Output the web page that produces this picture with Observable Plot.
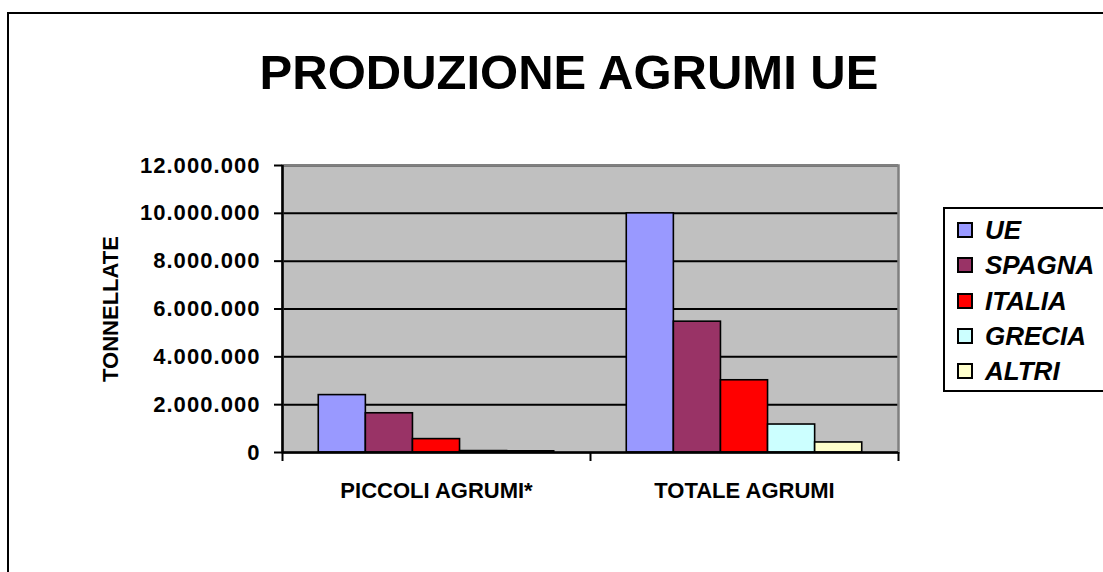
<!DOCTYPE html>
<html>
<head>
<meta charset="utf-8">
<script src="https://cdn.jsdelivr.net/npm/d3@7"></script>
<script src="https://cdn.jsdelivr.net/npm/@observablehq/plot@0.6"></script>
<style>
  html, body { margin: 0; padding: 0; background: #fff; overflow: hidden; width: 1103px; height: 572px; }
  body { position: relative; font-family: "Liberation Sans", Arial, sans-serif; }
  #outer { position: absolute; left: 7px; top: 12px; width: 1200px; height: 700px; border: 2px solid #000; box-sizing: border-box; }
  #title { position: absolute; left: 0; top: 48px; width: 1138px; text-align: center; font-size: 49px; line-height: 49px; font-weight: bold; color: #000; }
  #chart { position: absolute; left: 0; top: 0; }
  #chart [aria-label="y-axis tick label"] text { letter-spacing: 1.05px; }
  #legend { position: absolute; left: 943px; top: 207px; width: 200px; height: 185px; border: 2px solid #000; box-sizing: border-box; background: #fff; }
  .item { position: absolute; left: 12px; height: 30px; display: flex; align-items: center; }
  .sw { width: 16px; height: 16px; border: 2px solid #000; box-sizing: border-box; margin-right: 12px; }
  .lab { font-size: 26px; font-weight: bold; font-style: italic; line-height: 30px; }
</style>
</head>
<body>
<div id="outer"></div>
<div id="chart"></div>
<div id="title">PRODUZIONE AGRUMI UE</div>
<div id="legend"></div>
<script>
// ---- data ----
const groups = ["PICCOLI AGRUMI*", "TOTALE AGRUMI"];
const series = ["UE", "SPAGNA", "ITALIA", "GRECIA", "ALTRI"];
const colors = ["#9999FF", "#993366", "#FF0000", "#CCFFFF", "#FFFFCC"];
const piccoliValues = [2400000, 1640000, 560000, 60000, 50000];
const totaleValues = [10000000, 5470000, 3020000, 1170000, 420000];
const yTicks = [0, 2000000, 4000000, 6000000, 8000000, 10000000, 12000000];
const yTitle = "TONNELLATE";

const valuesByGroup = [piccoliValues, totaleValues];
const rows = [];
groups.forEach((g, gi) => series.forEach((s, si) => rows.push({group: g, gi, series: s, value: valuesByGroup[gi][si]})));

// inner band layout for series within each category
const inner = d3.scaleBand().domain(series).range([0, 1]).paddingInner(0).paddingOuter(0.77);

const fmt = d3.formatLocale({decimal: ",", thousands: ".", grouping: [3], currency: ["", ""]}).format(",");

const chart = Plot.plot({
  width: 1103,
  height: 572,
  marginLeft: 282,
  marginRight: 205,
  marginTop: 165,
  marginBottom: 120,
  style: {fontFamily: "'Liberation Sans', Arial, sans-serif", fontSize: "22px", fontWeight: "bold", color: "#000", background: "transparent", overflow: "visible"},
  x: {type: "linear", domain: [0, groups.length], axis: null},
  y: {domain: [0, 12000000], axis: null},
  color: {type: "ordinal", domain: series, range: colors},
  marks: [
    Plot.frame({fill: "#C0C0C0", stroke: null}),
    Plot.ruleY(yTicks.slice(1), {stroke: "#000", strokeWidth: 2}),
    Plot.frame({stroke: "#808080", strokeWidth: 2.5}),
    Plot.rectY(rows, {
      x1: d => d.gi + inner(d.series),
      x2: d => d.gi + inner(d.series) + inner.bandwidth(),
      y1: 0,
      y2: "value",
      fill: "series",
      stroke: "#000",
      strokeWidth: 1.6
    }),
    Plot.ruleX([0], {stroke: "#000", strokeWidth: 2.5}),
    Plot.ruleY([0], {stroke: "#000", strokeWidth: 2.5}),
    Plot.axisY({ticks: yTicks, tickSize: 8, tickPadding: 14, tickFormat: fmt, fontSize: 22, fontWeight: "bold", strokeWidth: 2, label: null}),
    Plot.axisX({ticks: d3.range(0, groups.length + 1), tickSize: 9, tickFormat: () => "", strokeWidth: 2, label: null}),
    Plot.axisX({ticks: groups.map((g, i) => i + 0.5), tickSize: 0, tickPadding: 30, tickFormat: v => groups[Math.floor(v)], fontSize: 22, fontWeight: "bold", label: null}),
    Plot.text([yTitle], {frameAnchor: "left", textAnchor: "middle", lineAnchor: "middle", dx: -172, rotate: -90, fontSize: 22, fontWeight: "bold", fill: "#000"})
  ]
});
document.getElementById("chart").appendChild(chart);

// legend
const legend = document.getElementById("legend");
series.forEach((s, i) => {
  const it = document.createElement("div");
  it.className = "item";
  it.style.top = (6 + i * 35.3) + "px";
  const sw = document.createElement("div");
  sw.className = "sw";
  sw.style.background = colors[i];
  const lab = document.createElement("span");
  lab.className = "lab";
  lab.textContent = s;
  it.appendChild(sw);
  it.appendChild(lab);
  legend.appendChild(it);
});
</script>
</body>
</html>
